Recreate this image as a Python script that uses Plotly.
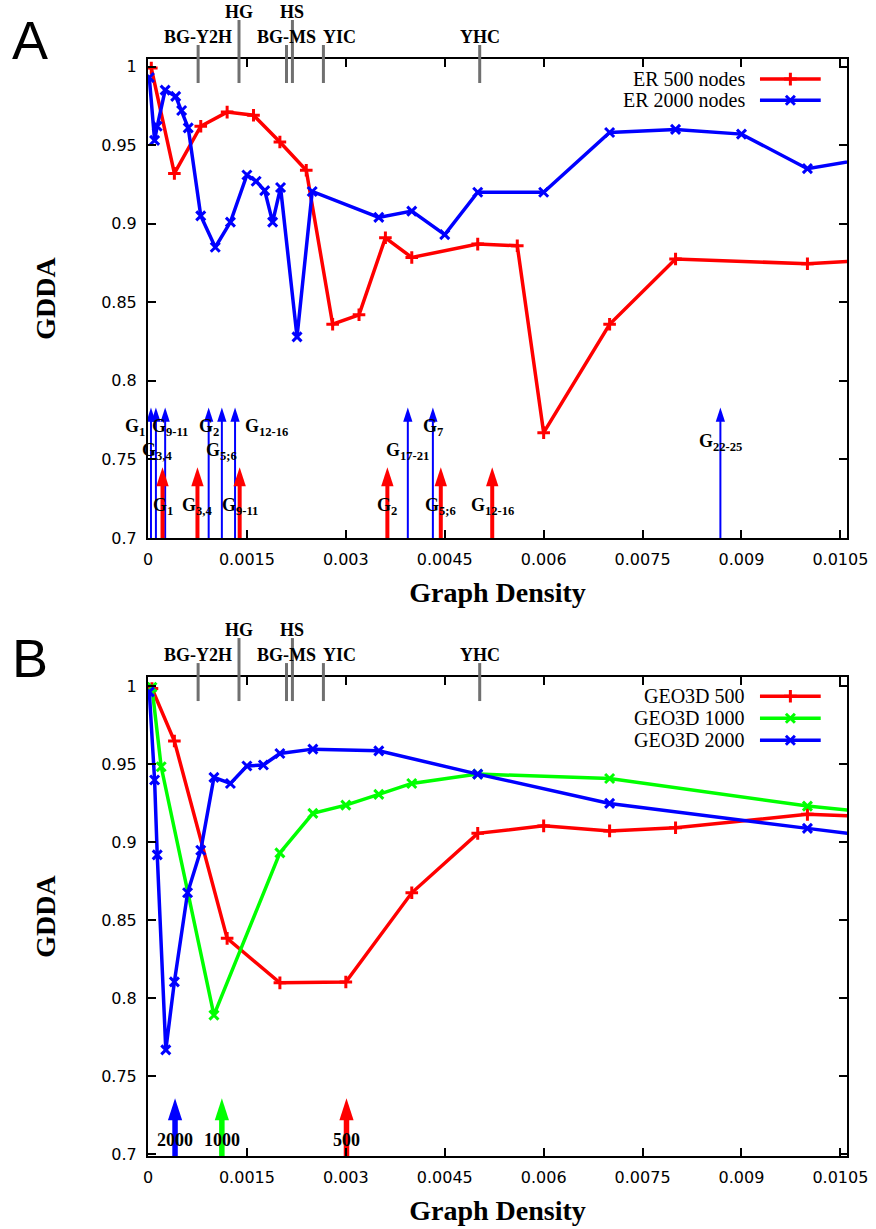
import plotly.graph_objects as go

# ---------------- data ----------------
# Panel A : Erdos-Renyi model networks
er500_x = [0.00005, 0.0004, 0.0008, 0.0012, 0.0016, 0.002, 0.0024, 0.0028, 0.0032, 0.0036,
           0.004, 0.005, 0.0056, 0.006, 0.007, 0.008, 0.01, 0.011]
er500_y = [0.999, 0.932, 0.962, 0.971, 0.969, 0.952, 0.934, 0.836, 0.842, 0.891,
           0.8785, 0.887, 0.886, 0.767, 0.836, 0.8775, 0.8745, 0.877]
er2000_x = [0.00002, 0.0001, 0.00014, 0.00026, 0.00042, 0.00051, 0.00061, 0.0008, 0.00102, 0.00125,
            0.0015, 0.00164, 0.00177, 0.00189, 0.00201, 0.00226, 0.00249, 0.0035, 0.004, 0.0045,
            0.005, 0.006, 0.007, 0.008, 0.009, 0.01, 0.011]
er2000_y = [0.993, 0.953, 0.962, 0.985, 0.981, 0.972, 0.961, 0.905, 0.885, 0.901,
            0.931, 0.927, 0.921, 0.901, 0.923, 0.828, 0.9205, 0.904, 0.908, 0.893,
            0.92, 0.92, 0.958, 0.960, 0.957, 0.935, 0.942]

# Panel B : geometric (GEO3D) model networks
geo500_x = [0.00006, 0.0004, 0.0012, 0.002, 0.003, 0.004, 0.005, 0.006, 0.007, 0.008, 0.01, 0.011]
geo500_y = [0.9987, 0.965, 0.8385, 0.81, 0.8105, 0.8677, 0.9058, 0.9106, 0.9074, 0.9094, 0.918, 0.9165]
geo1000_x = [0.00006, 0.0002, 0.001, 0.002, 0.0025, 0.003, 0.0035, 0.004, 0.005, 0.007, 0.01, 0.011]
geo1000_y = [0.9995, 0.9485, 0.7893, 0.8933, 0.9186, 0.9239, 0.9308, 0.9378, 0.9438, 0.941, 0.9233, 0.919]
geo2000_x = [0.00002, 0.0001, 0.00014, 0.00027, 0.0004, 0.0006, 0.0008, 0.001, 0.00125, 0.0015,
             0.00175, 0.002, 0.0025, 0.0035, 0.005, 0.007, 0.01, 0.011]
geo2000_y = [0.9965, 0.940, 0.892, 0.767, 0.8106, 0.8677, 0.895, 0.9417, 0.9378, 0.949,
             0.9496, 0.957, 0.9598, 0.9587, 0.9438, 0.925, 0.909, 0.9037]

# Real PPI networks (densities marked above both panels)
net_names = ["BG-Y2H", "HG", "BG-MS", "HS", "YIC", "YHC"]
net_density = [0.00076, 0.00138, 0.0021, 0.00219, 0.00266, 0.00503]

# Arrows in panel A
blue_arrow_x = [0.000045, 0.00012, 0.00026, 0.00092, 0.00112, 0.00132, 0.00394, 0.00432, 0.00868]
blue_arrow_labels = ["G<sub>1</sub>", "G<sub>3,4</sub>", "G<sub>9-11</sub>", "G<sub>2</sub>",
                     "G<sub>5;6</sub>", "G<sub>12-16</sub>", "G<sub>17-21</sub>", "G<sub>7</sub>",
                     "G<sub>22-25</sub>"]
red_arrow_x = [0.00022, 0.00075, 0.00139, 0.00363, 0.00444, 0.00522]
red_arrow_labels = ["G<sub>1</sub>", "G<sub>3,4</sub>", "G<sub>9-11</sub>", "G<sub>2</sub>",
                    "G<sub>5;6</sub>", "G<sub>12-16</sub>"]

# Arrows in panel B
geo_arrow_x = [0.00041, 0.00112, 0.00301]
geo_arrow_labels = ["2000", "1000", "500"]

# Axis ticks
x_ticks = [0, 0.0015, 0.003, 0.0045, 0.006, 0.0075, 0.009, 0.0105]
x_tick_text = ["0", "0.0015", "0.003", "0.0045", "0.006", "0.0075", "0.009", "0.0105"]
y_ticks = [0.7, 0.75, 0.8, 0.85, 0.9, 0.95, 1.0]
y_tick_text = ["0.7", "0.75", "0.8", "0.85", "0.9", "0.95", "1"]

# ---------------- style ----------------
RED, GREEN, BLUE = "#ff0000", "#00ff00", "#0000ff"
GRAY = "rgb(112,112,112)"
SERIF = "Liberation Serif"
SANS = "DejaVu Sans"
LW = 3.5

net_high = [False, True, False, True, False, False]
net_xshift = [0, 0, 0, 0, 16, 0]
blue_label_level = ["up", "down", "up", "up", "down", "up", "down", "up", "mid"]
blue_label_xshift = [-16, 1, 5, 0, 0, 31, 0, 0, 0]
level_y = {"up": 0.770, "down": 0.755, "mid": 0.7605}
red_label_y = 0.7198
geo_arrow_colors = [BLUE, GREEN, RED]

fig = go.Figure()


def add_series(x, y, color, symbol, xa, ya, name):
    fig.add_trace(go.Scatter(
        x=x, y=y, mode="lines+markers", name=name, showlegend=False,
        line=dict(color=color, width=LW),
        marker=dict(symbol=symbol, size=9, color=color, line=dict(color=color, width=3)),
        xaxis=xa, yaxis=ya))


def add_arrows(xs, base, head, color, width, size, xa, ya, gap):
    X, Y = [], []
    for x in xs:
        X += [x, x, None]
        Y += [base, head - gap, None]
    fig.add_trace(go.Scatter(x=X, y=Y, mode="lines", line=dict(color=color, width=width),
                             xaxis=xa, yaxis=ya, showlegend=False, hoverinfo="skip"))
    fig.add_trace(go.Scatter(x=list(xs), y=[head] * len(xs), mode="markers",
                             marker=dict(symbol="arrow", size=size, color=color, line=dict(width=0)),
                             xaxis=xa, yaxis=ya, showlegend=False, hoverinfo="skip"))


# Panel A data
add_series(er500_x, er500_y, RED, "cross-thin-open", "x", "y", "ER 500 nodes")
add_series(er2000_x, er2000_y, BLUE, "x-thin-open", "x", "y", "ER 2000 nodes")
# Panel B data
add_series(geo500_x, geo500_y, RED, "cross-thin-open", "x2", "y2", "GEO3D 500")
add_series(geo1000_x, geo1000_y, GREEN, "x-thin-open", "x2", "y2", "GEO3D 1000")
add_series(geo2000_x, geo2000_y, BLUE, "x-thin-open", "x2", "y2", "GEO3D 2000")

# Arrows panel A
add_arrows(blue_arrow_x, 0.69, 0.783, BLUE, 2, 15, "x", "y", 0.004)
add_arrows(red_arrow_x, 0.69, 0.745, RED, 4, 20, "x", "y", 0.006)
# Arrows panel B
for x, c in zip(geo_arrow_x, geo_arrow_colors):
    add_arrows([x], 0.69, 0.736, c, 5.5, 23, "x2", "y2", 0.007)

lab_font = dict(family=SERIF, size=18, color="black")
for x, t, lv, dx in zip(blue_arrow_x, blue_arrow_labels, blue_label_level, blue_label_xshift):
    fig.add_annotation(x=x, y=level_y[lv], xref="x", yref="y", text="<b>" + t + "</b>",
                       showarrow=False, xshift=dx, font=lab_font, yanchor="middle")
for x, t in zip(red_arrow_x, red_arrow_labels):
    fig.add_annotation(x=x, y=red_label_y, xref="x", yref="y", text="<b>" + t + "</b>",
                       showarrow=False, font=lab_font, yanchor="middle")
for x, t in zip(geo_arrow_x, geo_arrow_labels):
    fig.add_annotation(x=x, y=0.709, xref="x2", yref="y2", text="<b>" + t + "</b>",
                       showarrow=False, font=dict(family=SERIF, size=18, color="black"),
                       yanchor="middle")

# Real network markers above both panels
for xa, ya in [("x", "y"), ("x2", "y2")]:
    for name, d, hi, dx in zip(net_names, net_density, net_high, net_xshift):
        fig.add_shape(type="line", xref=xa, yref=ya + " domain", x0=d, x1=d,
                      y0=0.9499, y1=1.0814 if hi else 1.0292,
                      line=dict(color=GRAY, width=3))
        fig.add_annotation(x=d, y=1.098 if hi else 1.0466, xref=xa, yref=ya + " domain",
                           text="<b>" + name + "</b>", showarrow=False, xshift=dx,
                           font=dict(family=SERIF, size=18, color="black"), yanchor="middle")

# Custom gnuplot-style legends (text left, sample right)
legend_A = [("ER 500 nodes", RED, "cross-thin-open"), ("ER 2000 nodes", BLUE, "x-thin-open")]
legend_B = [("GEO3D 500", RED, "cross-thin-open"), ("GEO3D 1000", GREEN, "x-thin-open"),
            ("GEO3D 2000", BLUE, "x-thin-open")]
for entries, rows, xa, ya in [(legend_A, [0.958, 0.914], "x3", "y3"),
                              (legend_B, [0.960, 0.914, 0.868], "x4", "y4")]:
    for (name, color, sym), ry in zip(entries, rows):
        fig.add_trace(go.Scatter(x=[0.8755, 0.9624], y=[ry, ry], mode="lines",
                                 line=dict(color=color, width=LW), xaxis=xa, yaxis=ya,
                                 showlegend=False, hoverinfo="skip"))
        fig.add_trace(go.Scatter(x=[0.919], y=[ry], mode="markers",
                                 marker=dict(symbol=sym, size=9, color=color,
                                             line=dict(color=color, width=3)),
                                 xaxis=xa, yaxis=ya, showlegend=False, hoverinfo="skip"))
        fig.add_annotation(x=0.8565, y=ry, xref=xa, yref=ya, text=name, showarrow=False,
                           xanchor="right", yanchor="middle",
                           font=dict(family=SERIF, size=20, color="black"))

# Panel letters
fig.add_annotation(x=-0.169, y=1.0175, xref="paper", yref="paper", text="A", showarrow=False,
                   xanchor="center", yanchor="middle",
                   font=dict(family="Liberation Sans", size=54, color="black"))
fig.add_annotation(x=-0.169, y=0.454, xref="paper", yref="paper", text="B", showarrow=False,
                   xanchor="center", yanchor="middle",
                   font=dict(family="Liberation Sans", size=54, color="black"))

ax_common = dict(showgrid=False, zeroline=False, showline=True, linecolor="black", linewidth=2,
                 mirror="ticks", ticks="inside", ticklen=8, tickwidth=1.5, tickcolor="black",
                 automargin=False,
                 tickfont=dict(family=SANS, size=16, color="black"))
xt = dict(tickvals=x_ticks, ticktext=x_tick_text, range=[0, 0.0106], ticklabelstandoff=6,
          title=dict(text="<b>Graph Density</b>", standoff=14,
                     font=dict(family=SERIF, size=28, color="black")))
yt = dict(tickvals=y_ticks, ticktext=y_tick_text, ticklabelstandoff=6,
          title=dict(text="<b>GDDA</b>", standoff=37,
                     font=dict(family=SERIF, size=28, color="black")))
dom_A = [0.5634, 1.0]
dom_B = [0.0, 0.4366]

fig.update_layout(
    width=876, height=1229,
    margin=dict(l=148, r=29, t=59, b=73),
    paper_bgcolor="white", plot_bgcolor="white",
    showlegend=False,
    xaxis=dict(**ax_common, **xt, domain=[0, 1], anchor="y"),
    yaxis=dict(**ax_common, **yt, domain=dom_A, anchor="x", range=[0.7, 1.0048]),
    xaxis2=dict(**ax_common, **xt, domain=[0, 1], anchor="y2"),
    yaxis2=dict(**ax_common, **yt, domain=dom_B, anchor="x2", range=[0.699, 1.006]),
    xaxis3=dict(overlaying="x", anchor="y3", range=[0, 1], visible=False),
    yaxis3=dict(overlaying="y", anchor="x3", range=[0, 1], visible=False),
    xaxis4=dict(overlaying="x2", anchor="y4", range=[0, 1], visible=False),
    yaxis4=dict(overlaying="y2", anchor="x4", range=[0, 1], visible=False),
)

fig.write_html("out.html", config={"displayModeBar": False},
               post_script="document.body.style.margin='0px';document.body.style.overflow='hidden';")
